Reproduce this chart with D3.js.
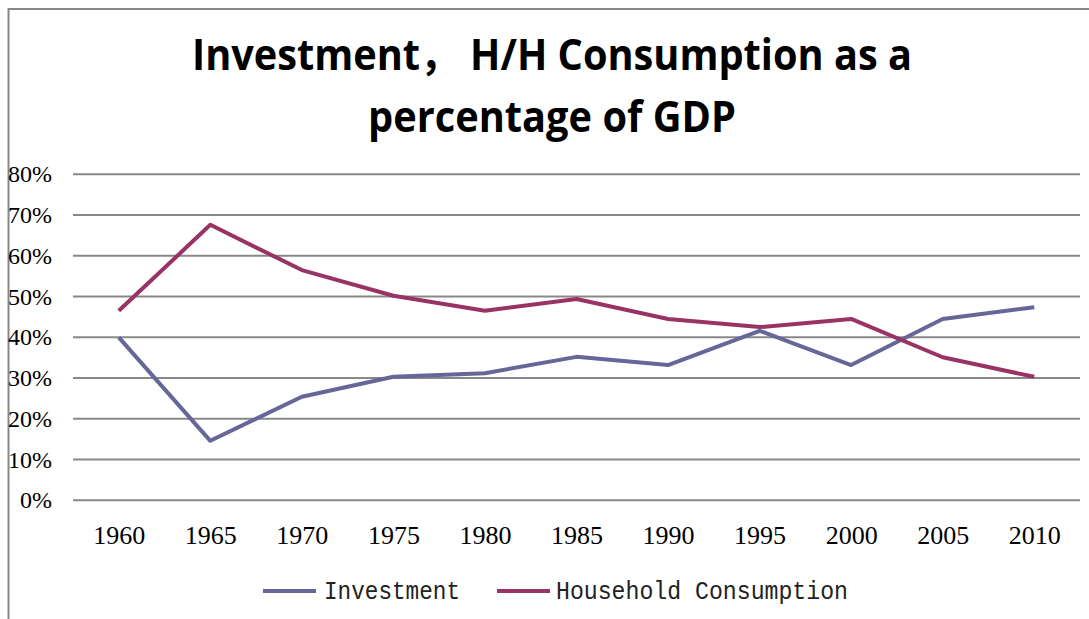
<!DOCTYPE html>
<html>
<head>
<meta charset="utf-8">
<script src="https://cdn.jsdelivr.net/npm/d3@7"></script>
<style>
  body { margin: 0; background: #fff; }
  svg { display: block; }
</style>
</head>
<body>
<div id="chart"></div>
<script>
// Data
let years = ["1960", "1965", "1970", "1975", "1980", "1985", "1990", "1995", "2000", "2005", "2010"];
let investment = [0.40, 0.146, 0.254, 0.303, 0.312, 0.352, 0.332, 0.416, 0.332, 0.445, 0.474];
let household = [0.465, 0.676, 0.565, 0.502, 0.465, 0.494, 0.445, 0.425, 0.445, 0.351, 0.303];
let yTicks = [0, 0.1, 0.2, 0.3, 0.4, 0.5, 0.6, 0.7, 0.8];
let seriesNames = ["Investment", "Household Consumption"];
let seriesColors = ["#666699", "#993366"];

let width = 1089, height = 619;
let plot = {left: 73, right: 1080, top: 174.3, bottom: 500.3};

let svg = d3.select("#chart").append("svg")
    .attr("width", width)
    .attr("height", height);

// Chart border (cut off at right and bottom in the reference)
svg.append("rect")
    .attr("x", 8.5).attr("y", 9)
    .attr("width", width + 20).attr("height", height + 20)
    .attr("fill", "#fff")
    .attr("stroke", "#878787")
    .attr("stroke-width", 2);

// Title (full-width comma falls back to the CJK font)
let title = svg.append("g")
    .attr("font-family", "'Open Sans', 'Noto Sans CJK SC', sans-serif")
    .attr("font-weight", 700)
    .attr("font-size", 43)
    .attr("fill", "#000")
    .attr("text-anchor", "middle");
title.append("text")
    .attr("x", 552).attr("y", 70)
    .attr("textLength", 720).attr("lengthAdjust", "spacingAndGlyphs")
    .text("Investment\uFF0C  H/H Consumption as a");
title.append("text")
    .attr("x", 552).attr("y", 132)
    .attr("textLength", 368).attr("lengthAdjust", "spacingAndGlyphs")
    .text("percentage of GDP");

// Scales
let x = d3.scalePoint().domain(years).range([plot.left, plot.right]).padding(0.5);
let y = d3.scaleLinear().domain([0, 0.8]).range([plot.bottom, plot.top]);

// Gridlines
svg.append("g")
    .selectAll("line")
    .data(yTicks)
    .enter().append("line")
    .attr("x1", plot.left).attr("x2", plot.right)
    .attr("y1", function(d) { return y(d); })
    .attr("y2", function(d) { return y(d); })
    .attr("stroke", "#888")
    .attr("stroke-width", 2);

// Y axis labels
let yAxis = svg.append("g")
    .attr("transform", "translate(" + plot.left + ",0)")
    .call(d3.axisLeft(y).tickValues(yTicks).tickFormat(d3.format(".0%")).tickSize(0).tickPadding(21));
yAxis.select(".domain").remove();
yAxis.selectAll("text")
    .attr("font-family", "'Liberation Serif', serif")
    .attr("font-size", 24)
    .attr("fill", "#000");

// X axis labels
let xAxis = svg.append("g")
    .attr("transform", "translate(0," + plot.bottom + ")")
    .call(d3.axisBottom(x).tickSize(0).tickPadding(25));
xAxis.select(".domain").remove();
xAxis.selectAll("text")
    .attr("font-family", "'Liberation Serif', serif")
    .attr("font-size", 26)
    .attr("fill", "#000");

// Lines
let line = d3.line()
    .x(function(d, i) { return x(years[i]); })
    .y(function(d) { return y(d); });

[investment, household].forEach(function(vals, i) {
    svg.append("path")
        .datum(vals)
        .attr("fill", "none")
        .attr("stroke", seriesColors[i])
        .attr("stroke-width", 4)
        .attr("stroke-linejoin", "round")
        .attr("d", line);
});

// Legend
let legendItems = [
    {x1: 263, x2: 316, tx: 324, tw: 136},
    {x1: 497, x2: 550, tx: 556, tw: 292}
];
legendItems.forEach(function(it, i) {
    svg.append("line")
        .attr("x1", it.x1).attr("x2", it.x2)
        .attr("y1", 591).attr("y2", 591)
        .attr("stroke", seriesColors[i])
        .attr("stroke-width", 4);
    svg.append("text")
        .attr("x", it.tx).attr("y", 599)
        .attr("font-family", "'Liberation Mono', monospace")
        .attr("font-size", 25)
        .attr("fill", "#222")
        .attr("textLength", it.tw).attr("lengthAdjust", "spacingAndGlyphs")
        .text(seriesNames[i]);
});
</script>
</body>
</html>
